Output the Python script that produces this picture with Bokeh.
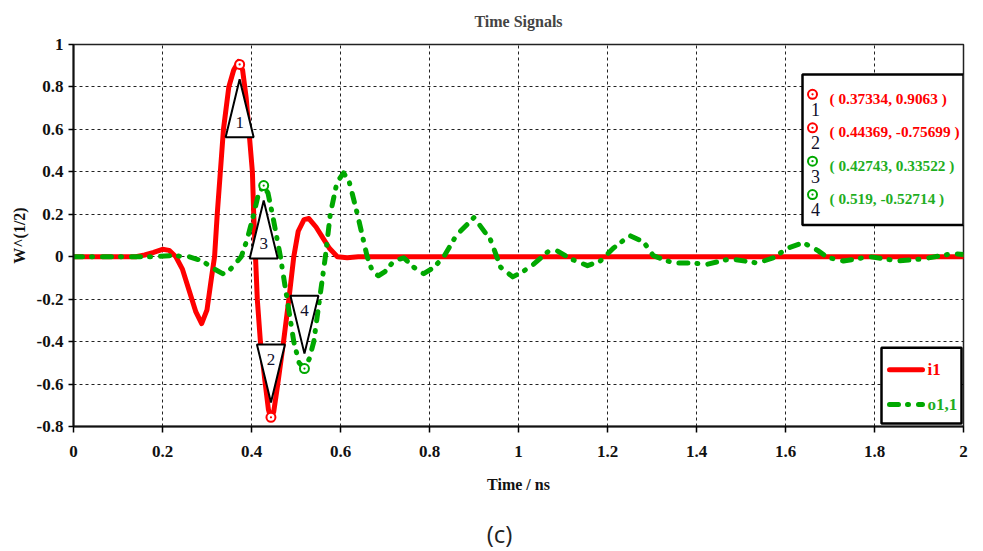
from bokeh.plotting import figure
from bokeh.layouts import column
from bokeh.models import FixedTicker, NumeralTickFormatter, Label, Range1d
from bokeh.embed import file_html
from bokeh.resources import INLINE

# ---------------- data ----------------
i1_t = [0.0, 0.14, 0.16, 0.18, 0.20, 0.215, 0.23, 0.245, 0.26, 0.275, 0.288, 0.30, 0.31,
        0.317, 0.323, 0.33, 0.337, 0.349, 0.36, 0.371, 0.38, 0.388, 0.394, 0.402, 0.405,
        0.409, 0.413, 0.42, 0.431, 0.438, 0.444, 0.45, 0.459, 0.472, 0.484, 0.495, 0.505,
        0.518, 0.529, 0.545, 0.56, 0.575, 0.593, 0.615, 0.64, 2.0]
i1_v = [0.0, 0.0, 0.008, 0.02, 0.035, 0.03, 0.0, -0.06, -0.16, -0.26, -0.315, -0.25, -0.1,
        0.0, 0.2, 0.4, 0.6, 0.8, 0.88, 0.92, 0.88, 0.75, 0.6, 0.4, 0.2,
        0.0, -0.2, -0.4, -0.6, -0.72, -0.765, -0.73, -0.6, -0.4, -0.2, 0.0, 0.12,
        0.175, 0.18, 0.14, 0.09, 0.04, 0.0, -0.005, 0.0, 0.0]

o11_t = [0.0, 0.18, 0.22, 0.26, 0.29, 0.31, 0.335, 0.35, 0.365, 0.377, 0.39, 0.405, 0.415,
         0.427, 0.437, 0.447, 0.456, 0.465, 0.48, 0.495, 0.507, 0.519, 0.53, 0.54, 0.553,
         0.566, 0.577, 0.592, 0.607, 0.62, 0.638, 0.66, 0.672, 0.685, 0.70, 0.72, 0.742,
         0.765, 0.787, 0.81, 0.832, 0.86, 0.90, 0.937, 0.96, 0.987, 1.01, 1.034, 1.067,
         1.087, 1.117, 1.155, 1.184, 1.213, 1.25, 1.281, 1.303, 1.348, 1.387, 1.425, 1.476,
         1.537, 1.573, 1.604, 1.64, 1.672, 1.694, 1.73, 1.79, 1.852, 1.91, 1.977, 2.0]
o11_v = [0.0, 0.0, 0.005, 0.0, -0.02, -0.05, -0.08, -0.065, -0.03, 0.0, 0.08, 0.2, 0.29,
         0.335, 0.3, 0.2, 0.1, 0.0, -0.2, -0.4, -0.5, -0.527, -0.48, -0.4, -0.2,
         0.0, 0.2, 0.35, 0.395, 0.35, 0.2, 0.0, -0.07, -0.09, -0.07, -0.02, -0.005,
         -0.05, -0.08, -0.05, 0.0, 0.1, 0.185, 0.08, -0.05, -0.095, -0.07, -0.035, 0.025,
         0.028, -0.01, -0.042, -0.02, 0.04, 0.1, 0.07, 0.005, -0.03, -0.03, -0.035, -0.01,
         -0.03, -0.005, 0.04, 0.066, 0.03, -0.003, -0.02, 0.0, -0.02, -0.01, 0.015, 0.01]

marker_ids = ["1", "2", "3", "4"]
marker_t = [0.37334, 0.44369, 0.42743, 0.519]
marker_v = [0.9063, -0.75699, 0.33522, -0.52714]
marker_series = ["i1", "i1", "o1,1", "o1,1"]

series_names = ["i1", "o1,1"]

x_ticks = [0, 0.2, 0.4, 0.6, 0.8, 1, 1.2, 1.4, 1.6, 1.8, 2]
x_tick_labels = ["0", "0.2", "0.4", "0.6", "0.8", "1", "1.2", "1.4", "1.6", "1.8", "2"]
y_ticks = [-0.8, -0.6, -0.4, -0.2, 0, 0.2, 0.4, 0.6, 0.8, 1]
y_tick_labels = ["-0.8", "-0.6", "-0.4", "-0.2", "0", "0.2", "0.4", "0.6", "0.8", "1"]

caption = "(c)"

# ---------------- styles / layout ----------------
RED = "#ff0000"
GREEN = "#00a800"
GREEN_TXT = "#1fae1f"
SERIF = "Liberation Serif"
color_of = {"i1": RED, "o1,1": GREEN}
txt_color_of = {"i1": RED, "o1,1": GREEN_TXT}

W, H, CAP_H = 983, 518, 33
FL, FR, FT, FB = 73, 20, 43, 92
FW, FH = W - FL - FR, H - FT - FB
X0, X1, Y0, Y1 = 0.0, 2.0, -0.8, 1.0


def cx(px):  # canvas px -> data x (annotation layout only)
    return X0 + (px - FL) / FW * (X1 - X0)


def cy(py):  # canvas px -> data y
    return Y1 - (py - FT) / FH * (Y1 - Y0)


SX = (X1 - X0) / FW   # data per px
SY = (Y1 - Y0) / FH

p = figure(width=W, height=H, x_range=Range1d(X0, X1), y_range=Range1d(Y0, Y1),
           output_backend="svg", toolbar_location=None,
           min_border_left=FL, min_border_right=FR, min_border_top=FT, min_border_bottom=FB)

p.title.text = "Time Signals"
p.title.align = "center"
p.title.vertical_align = "top"
p.title.text_font = SERIF
p.title.text_font_size = "16px"
p.title.text_font_style = "bold"
p.title.standoff = 25

p.xaxis.ticker = FixedTicker(ticks=x_ticks)
p.yaxis.ticker = FixedTicker(ticks=y_ticks)
p.xaxis.formatter = NumeralTickFormatter(format="0.[0]")
p.yaxis.formatter = NumeralTickFormatter(format="0.[0]")
p.xaxis.major_label_overrides = dict(zip(x_ticks, x_tick_labels))
p.yaxis.major_label_overrides = dict(zip(y_ticks, y_tick_labels))
p.axis.minor_tick_line_color = None
p.axis.major_tick_in = 0
p.xaxis.major_tick_out = 6
p.yaxis.major_tick_out = 5
p.axis.axis_line_width = 2
p.axis.axis_line_color = "#111111"
p.axis.major_tick_line_width = 1.5
p.axis.major_label_text_font = SERIF
p.axis.major_label_text_font_style = "bold"
p.axis.major_label_text_font_size = "17px"
p.axis.major_label_text_color = "#111111"
p.xaxis.major_label_standoff = 13
p.yaxis.major_label_standoff = 5
p.xaxis.axis_label = "Time / ns"
p.yaxis.axis_label = "W^(1/2)"
p.axis.axis_label_text_font = SERIF
p.axis.axis_label_text_font_style = "bold"
p.axis.axis_label_text_font_size = "16px"
p.axis.axis_label_text_color = "#111111"
p.xaxis.axis_label_standoff = 16
p.yaxis.axis_label_standoff = 6

p.grid.grid_line_color = "#222222"
p.grid.grid_line_dash = "3 3"
p.grid.grid_line_width = 1
p.outline_line_color = "#222222"
p.outline_line_width = 1.5

# curves
p.line(i1_t, i1_v, line_color=RED, line_width=5, line_join="round", line_cap="round")
p.line(o11_t, o11_v, line_color=GREEN, line_width=5, line_dash="9 9 1 10",
       line_join="round", line_cap="round")

# triangle callouts below peaks / above troughs
GAP, TRI_H, TRI_HW, NUM_OFF = 15, 58, 14, 15
tri_xs, tri_ys = [], []
for t, v in zip(marker_t, marker_v):
    s = 1 if v > 0 else -1
    apex = v - s * GAP * SY
    base = v - s * (GAP + TRI_H) * SY
    tri_xs.append([t, t - TRI_HW * SX, t + TRI_HW * SX])
    tri_ys.append([apex, base, base])
p.patches(tri_xs, tri_ys, fill_color="white", line_color="black", line_width=2)
for mid, t, v in zip(marker_ids, marker_t, marker_v):
    s = 1 if v > 0 else -1
    p.add_layout(Label(x=t, y=v - s * (GAP + TRI_H - NUM_OFF) * SY, text=mid,
                       text_align="center", text_baseline="middle",
                       text_font=SERIF, text_font_size="17px", text_color="#10102a"))

mcolors = [color_of[s] for s in marker_series]
p.scatter(marker_t, marker_v, marker="circle_dot", size=9, line_color=mcolors,
          fill_color="white", line_width=2)

# marker read-out box (top right)
BX0, BX1, BY0, BY1 = 802, 963, 73, 224
p.quad(left=[cx(BX0)], right=[cx(BX1)], top=[cy(BY0)], bottom=[cy(BY1)],
       fill_color="white", line_color="black", line_width=2.5)
row_y = [BY0 + 24 + 33.5 * i for i in range(len(marker_ids))]
p.scatter([cx(BX0 + 10)] * len(marker_ids), [cy(r - 4) for r in row_y], marker="circle_dot",
          size=9, line_color=mcolors, fill_color="white", line_width=2)
for mid, t, v, s, r in zip(marker_ids, marker_t, marker_v, marker_series, row_y):
    p.add_layout(Label(x=cx(BX0 + 13), y=cy(r + 11), text=mid, text_align="center",
                       text_baseline="middle", text_font=SERIF,
                       text_font_size="18px", text_color="#10102a"))
    p.add_layout(Label(x=cx(BX0 + 27), y=cy(r), text=f"( {t}, {v} )", text_align="left",
                       text_baseline="middle", text_font=SERIF, text_font_style="bold",
                       text_font_size="15.3px", text_color=txt_color_of[s]))

# series legend (bottom right)
LX0, LX1, LY0, LY1 = 881, 961, 347, 423
p.quad(left=[cx(LX0)], right=[cx(LX1)], top=[cy(LY0)], bottom=[cy(LY1)],
       fill_color="white", line_color="black", line_width=2.5)
leg_rows = [LY0 + 22, LY0 + 57]
p.line([cx(LX0 + 8), cx(LX0 + 41)], [cy(leg_rows[0])] * 2, line_color=RED, line_width=5,
       line_cap="round")
p.line([cx(LX0 + 8), cx(LX0 + 41)], [cy(leg_rows[1])] * 2, line_color=GREEN, line_width=5,
       line_cap="round", line_dash="9 9 1 10")
for name, r in zip(series_names, leg_rows):
    p.add_layout(Label(x=cx(LX0 + 46), y=cy(r), text=name, text_align="left",
                       text_baseline="middle", text_font=SERIF, text_font_style="bold",
                       text_font_size="17px", text_color=txt_color_of[name]))

# panel caption strip below the chart (frame aligned with the chart's frame)
pc = figure(width=W, height=CAP_H, x_range=Range1d(X0, X1), y_range=Range1d(0, CAP_H),
            output_backend="svg", toolbar_location=None,
            min_border_left=FL, min_border_right=FR, min_border_top=0, min_border_bottom=0,
            x_axis_location=None, y_axis_location=None, outline_line_color=None)
pc.grid.visible = False
pc.add_layout(Label(x=cx(499), y=CAP_H - 15, text=caption, text_align="center",
                    text_baseline="middle", text_font="Open Sans",
                    text_font_size="24px", text_color="#222222"))

layout = column(p, pc, spacing=0)
open("out.html", "w").write(file_html(layout, INLINE))
